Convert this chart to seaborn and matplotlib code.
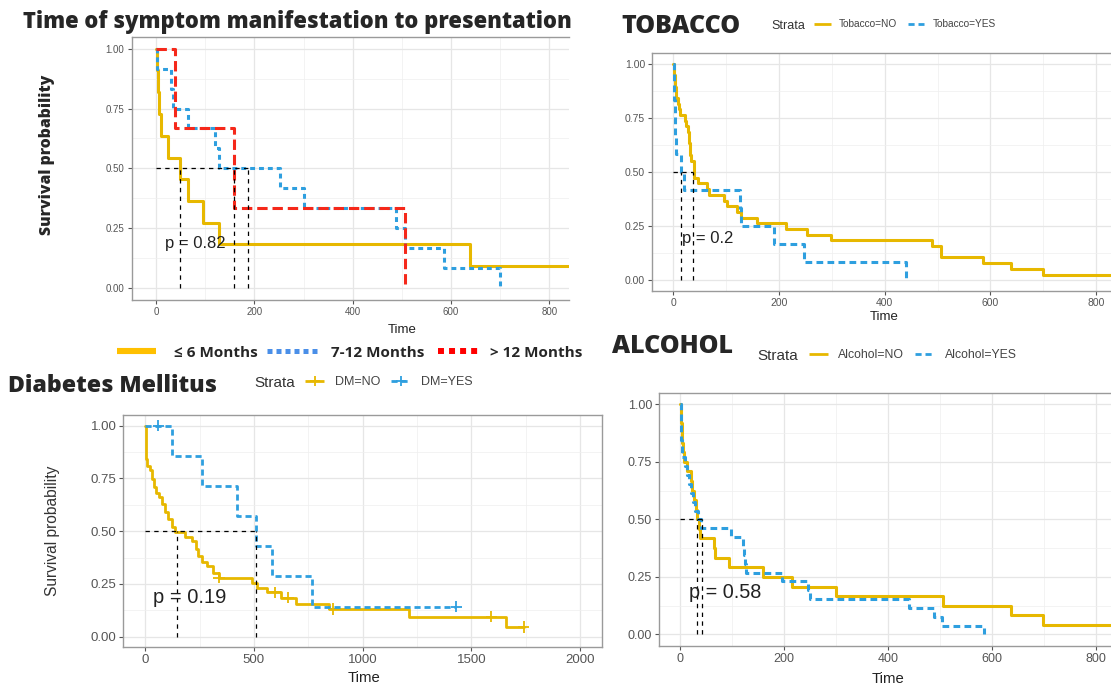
import numpy as np
import pandas as pd
import matplotlib.pyplot as plt
import seaborn as sns
from matplotlib.lines import Line2D
from matplotlib.ticker import MultipleLocator, FormatStrFormatter

# ---- Kaplan-Meier steps (time -> survival after that time) ----
# Time of symptom manifestation to presentation
le6_time = [0, 1, 3, 5, 11, 25, 48, 64, 95, 127, 639, 1000]
le6_surv = [1.0, 0.909, 0.818, 0.727, 0.636, 0.545, 0.455, 0.364, 0.273, 0.182, 0.091, 0.091]
m712_time = [0, 2, 31, 35, 65, 120, 127, 252, 301, 488, 507, 586, 700]
m712_surv = [1.0, 0.917, 0.833, 0.75, 0.667, 0.583, 0.5, 0.417, 0.333, 0.25, 0.167, 0.083, 0.0]
gt12_time = [0, 39, 159, 507]
gt12_surv = [1.0, 0.667, 0.333, 0.0]
onset_medians = [48, 159, 188]

# Tobacco
tob_no_time = [0, 2, 4, 6, 8, 10, 12, 22, 24, 27, 29, 30, 31, 32, 33, 39, 47, 64, 67, 95,
               101, 120, 129, 158, 214, 252, 299, 489, 506, 586, 638, 700, 1000]
tob_no_surv = [1.0, 0.947, 0.895, 0.842, 0.816, 0.789, 0.763, 0.737, 0.711, 0.684, 0.658,
               0.632, 0.605, 0.579, 0.553, 0.474, 0.447, 0.421, 0.395, 0.368, 0.342, 0.316,
               0.289, 0.263, 0.237, 0.211, 0.184, 0.158, 0.105, 0.079, 0.053, 0.026, 0.026]
tob_yes_time = [0, 1, 2, 3, 4, 6, 15, 21, 127, 129, 191, 248, 441]
tob_yes_surv = [1.0, 0.917, 0.833, 0.75, 0.667, 0.583, 0.5, 0.417, 0.333, 0.25, 0.167, 0.083, 0.0]
tob_medians = [15, 38]

# Diabetes mellitus
dm_no_time = [0, 2, 10, 20, 31, 40, 50, 62, 76, 91, 107, 122, 137, 183, 214, 232, 245, 262,
              282, 311, 338, 493, 515, 561, 625, 694, 847, 1213, 1660, 1740]
dm_no_surv = [1.0, 0.84, 0.81, 0.79, 0.745, 0.71, 0.68, 0.66, 0.63, 0.59, 0.556, 0.52, 0.495,
              0.47, 0.453, 0.414, 0.38, 0.355, 0.335, 0.30, 0.28, 0.256, 0.232, 0.21, 0.185,
              0.153, 0.13, 0.095, 0.047, 0.047]
dm_no_censor = [340, 597, 656, 865, 1592, 1740]
dm_yes_time = [0, 123, 263, 422, 508, 584, 767, 1431]
dm_yes_surv = [1.0, 0.857, 0.714, 0.571, 0.429, 0.286, 0.143, 0.143]
dm_yes_censor = [61, 1431]
dm_medians = [146, 508]

# Alcohol
alc_no_time = [0, 1, 2, 3, 4, 6, 8, 13, 21, 24, 27, 30, 33, 36, 38, 65, 68, 95, 159, 215,
               300, 506, 637, 698, 1000]
alc_no_surv = [1.0, 0.958, 0.917, 0.875, 0.833, 0.792, 0.75, 0.708, 0.667, 0.625, 0.583,
               0.542, 0.5, 0.458, 0.417, 0.375, 0.333, 0.292, 0.25, 0.208, 0.167, 0.125,
               0.083, 0.042, 0.042]
alc_yes_time = [0, 1, 2, 3, 10, 14, 18, 22, 25, 29, 35, 40, 99, 122, 124, 125, 127, 196,
                247, 250, 440, 488, 504, 586]
alc_yes_surv = [1.0, 0.923, 0.846, 0.769, 0.731, 0.692, 0.654, 0.615, 0.577, 0.538, 0.5,
                0.462, 0.423, 0.385, 0.346, 0.308, 0.269, 0.231, 0.192, 0.154, 0.115, 0.077,
                0.038, 0.0]
alc_medians = [33, 42]

YELLOW = "#E7B800"
BLUE = "#2E9FDF"
RED = "#F5281A"
GREY = "#555555"

sns.set_theme(style="white")
plt.rcParams['font.family'] = ['Liberation Sans', 'DejaVu Sans']
HEAD = ['Open Sans', 'DejaVu Sans']

W, H = 1111, 687
fig = plt.figure(figsize=(W / 100, H / 100), dpi=100)
fig.patch.set_facecolor("white")


def add_box(left, top, right, bottom):
    return fig.add_axes([left / W, 1 - bottom / H, (right - left) / W, (bottom - top) / H])


def ftext(x, y, s, **kw):
    fig.text(x / W, 1 - y / H, s, **kw)


def swatch(x0, x1, y, color, lw, dashes=None, marker=None):
    ln = Line2D([x0 / W, x1 / W], [1 - y / H] * 2, transform=fig.transFigure,
                color=color, lw=lw, solid_capstyle='butt', dash_capstyle='butt')
    if dashes:
        ln.set_dashes(dashes)
    fig.add_artist(ln)
    if marker:
        fig.add_artist(Line2D([(x0 + x1) / 2 / W], [1 - y / H], transform=fig.transFigure,
                              marker=marker, ms=7, mew=1.3, color=color, ls='none'))


def step_value(times, surv, t):
    i = np.searchsorted(times, t, side='right') - 1
    return np.asarray(surv)[i]


def km_panel(ax, curves, xlim, major, lw, medians, label_size, right_spine=False):
    df = pd.concat([pd.DataFrame({"time": t, "surv": s, "strata": name})
                    for name, t, s, _, _ in curves])
    palette = {c[0]: c[3] for c in curves}
    dashes = {c[0]: c[4] for c in curves}
    sns.lineplot(data=df, x="time", y="surv", hue="strata", style="strata",
                 palette=palette, dashes=dashes, estimator=None, sort=False,
                 drawstyle="steps-post", linewidth=lw, legend=False, ax=ax)
    # median survival guides
    ax.hlines(0.5, 0, max(medians), colors="black", lw=0.9, linestyles=(0, (3.5, 3.5)))
    ax.vlines(medians, 0, 0.5, colors="black", lw=0.9, linestyles=(0, (3.5, 3.5)))
    ax.set_xlim(*xlim)
    ax.set_ylim(-0.05, 1.05)
    ax.xaxis.set_major_locator(MultipleLocator(major))
    ax.xaxis.set_minor_locator(MultipleLocator(major / 2))
    ax.yaxis.set_major_locator(MultipleLocator(0.25))
    ax.yaxis.set_minor_locator(MultipleLocator(0.125))
    ax.yaxis.set_major_formatter(FormatStrFormatter('%.2f'))
    ax.grid(which='major', color='#E6E6E6', lw=0.9)
    ax.grid(which='minor', color='#EFEFEF', lw=0.5)
    ax.set_axisbelow(True)
    ax.tick_params(which='major', length=3, width=0.8, color='#555555', colors=GREY,
                   labelsize=label_size, pad=2, bottom=True, left=True)
    ax.tick_params(which='minor', length=0)
    for side, sp in ax.spines.items():
        sp.set_color('#9A9A9A')
        sp.set_linewidth(1.0)
    ax.spines['right'].set_visible(right_spine)
    ax.set_xlabel("")
    ax.set_ylabel("")


# ---- Panel 1: time of symptom manifestation ----
ax1 = add_box(131.5, 36.7, 569, 300)
km_panel(ax1, [("<=6", le6_time, le6_surv, YELLOW, ""),
               ("7-12", m712_time, m712_surv, BLUE, (1.6, 1.3)),
               (">12", gt12_time, gt12_surv, RED, (3.4, 1.6))],
         (-50, 840), 200, 2.2, onset_medians, 7)
ax1.text(18, 0.168, "p = 0.82", fontsize=12, color="#222222")
ftext(23, 28.5, "Time of symptom manifestation to presentation", family=HEAD,
      fontweight='heavy', fontsize=15.8, va='baseline')
ftext(47, 155, "Survival probability", family=HEAD, fontweight='heavy', fontsize=11.3,
      rotation=90, ha='center', va='center')
ftext(402, 333, "Time", fontsize=9.5, ha='center', va='baseline', color="#222222")
swatch(117, 156, 351, "#FFC000", 4.4)
ftext(174, 356.7, "≤ 6 Months", family=HEAD, fontweight='bold', fontsize=11, va='baseline')
swatch(267, 321, 351, "#4A8FE8", 3.6, (1, 0.8))
ftext(331, 356.7, "7-12 Months", family=HEAD, fontweight='bold', fontsize=11, va='baseline')
swatch(438, 480, 351, "#FF0000", 4.3, (1, 0.85))
ftext(490, 356.7, "> 12 Months", family=HEAD, fontweight='bold', fontsize=11, va='baseline')

# ---- Panel 2: tobacco ----
ax2 = add_box(652, 53, 1111, 291)
km_panel(ax2, [("NO", tob_no_time, tob_no_surv, YELLOW, ""),
               ("YES", tob_yes_time, tob_yes_surv, BLUE, (2.2, 1.4))],
         (-40.3, 828), 200, 2.2, tob_medians, 7.5)
ax2.text(16, 0.17, "p = 0.2", fontsize=12, color="#222222")
ftext(621, 32.7, "TOBACCO", family=HEAD, fontweight='heavy', fontsize=18, va='baseline')
ftext(771, 29, "Strata", fontsize=9, va='baseline', color="#333333")
swatch(814, 831, 23.7, YELLOW, 2.0)
ftext(839, 27, "Tobacco=NO", fontsize=7.3, va='baseline', color="#444444")
swatch(908, 924, 23.7, BLUE, 2.0, (2.2, 1.4))
ftext(933, 27, "Tobacco=YES", fontsize=7.3, va='baseline', color="#444444")
ftext(884, 320, "Time", fontsize=9.5, ha='center', va='baseline', color="#222222")

# ---- Panel 3: diabetes mellitus ----
ax3 = add_box(123.4, 415, 602, 647.3)
km_panel(ax3, [("NO", dm_no_time, dm_no_surv, YELLOW, ""),
               ("YES", dm_yes_time, dm_yes_surv, BLUE, (2.2, 1.4))],
         (-100, 2100), 500, 2.0, dm_medians, 9.5, right_spine=True)
cens = pd.DataFrame({
    "time": dm_no_censor + dm_yes_censor,
    "surv": [step_value(dm_no_time, dm_no_surv, t) for t in dm_no_censor]
            + [step_value(dm_yes_time, dm_yes_surv, t) for t in dm_yes_censor],
    "strata": ["NO"] * len(dm_no_censor) + ["YES"] * len(dm_yes_censor)})
sns.scatterplot(data=cens, x="time", y="surv", hue="strata",
                palette={"NO": YELLOW, "YES": BLUE}, marker="+", s=70, linewidth=1.3,
                legend=False, ax=ax3)
ax3.set_xlabel("")
ax3.set_ylabel("")
ax3.text(34, 0.161, "p = 0.19", fontsize=14.5, color="#222222")
ftext(8, 391.7, "Diabetes Mellitus", family=HEAD, fontweight='heavy', fontsize=16.7,
      va='baseline')
ftext(254, 386.7, "Strata", fontsize=11, va='baseline', color="#333333")
swatch(305, 324, 380.7, YELLOW, 2.0, marker='+')
ftext(335, 384.7, "DM=NO", fontsize=9, va='baseline', color="#444444")
swatch(391, 410, 380.7, BLUE, 2.0, (2.2, 1.4), marker='+')
ftext(421, 384.7, "DM=YES", fontsize=9, va='baseline', color="#444444")
ftext(52.7, 531, "Survival probability", fontsize=11.2, rotation=90, ha='center',
      va='center', color="#333333")
ftext(364, 681.7, "Time", fontsize=10.7, ha='center', va='baseline', color="#222222")

# ---- Panel 4: alcohol ----
ax4 = add_box(659, 392.7, 1111, 646)
km_panel(ax4, [("NO", alc_no_time, alc_no_surv, YELLOW, ""),
               ("YES", alc_yes_time, alc_yes_surv, BLUE, (2.2, 1.4))],
         (-40.4, 829.6), 200, 2.2, alc_medians, 9)
ax4.text(18, 0.159, "p = 0.58", fontsize=14.3, color="#222222")
ftext(612, 353.3, "ALCOHOL", family=HEAD, fontweight='heavy', fontsize=18, va='baseline')
ftext(757, 360, "Strata", fontsize=11, va='baseline', color="#333333")
swatch(809, 828, 354, YELLOW, 2.0)
ftext(838, 358, "Alcohol=NO", fontsize=8.8, va='baseline', color="#444444")
swatch(915, 935, 354, BLUE, 2.0, (2.2, 1.4))
ftext(945, 358, "Alcohol=YES", fontsize=8.8, va='baseline', color="#444444")
ftext(888, 683, "Time", fontsize=10.7, ha='center', va='baseline', color="#222222")

fig.savefig("out.png", dpi=100, facecolor="white")
